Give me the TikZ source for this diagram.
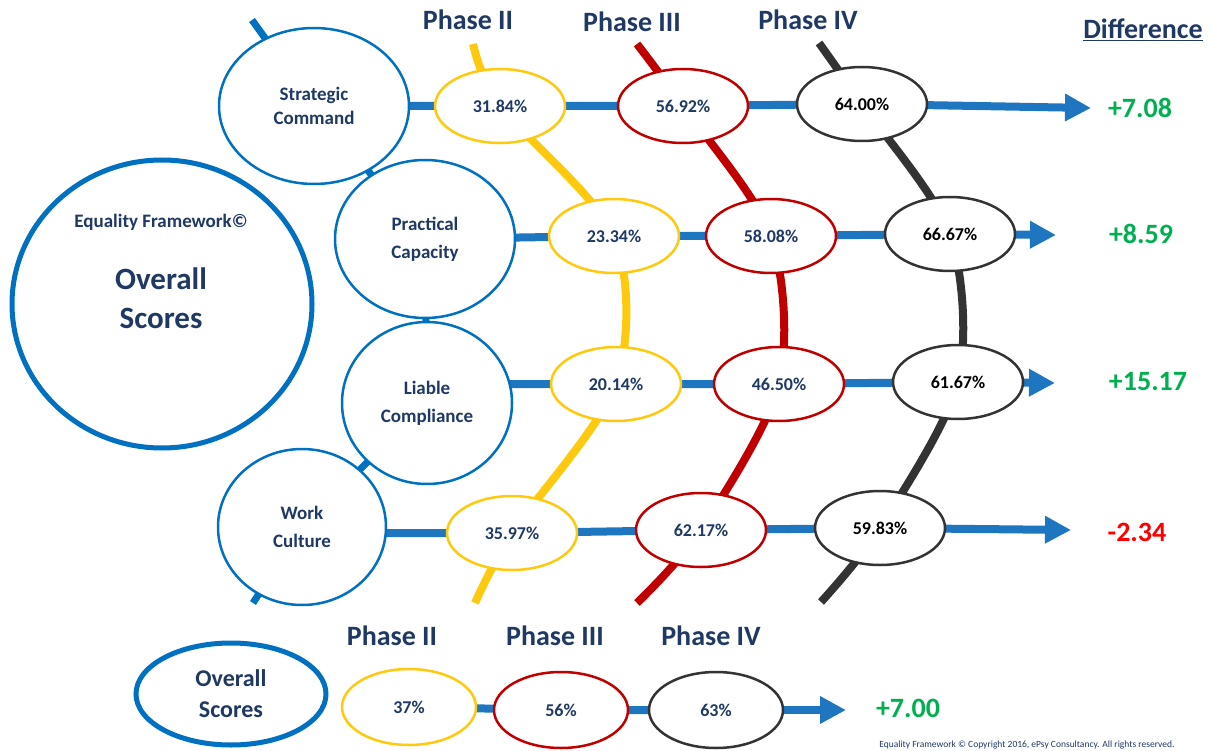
\documentclass[tikz,border=0pt]{standalone}
\usepackage{fontspec}
\setmainfont{Carlito}
\usepackage{xcolor}
\usepackage{tikz}
\usetikzlibrary{arrows.meta,shapes,calc}
\pgfdeclarelayer{bg}
\pgfsetlayers{bg,main}
\definecolor{navy}{RGB}{31,56,100}
\definecolor{lineblue}{RGB}{30,117,192}
\definecolor{ringblue}{RGB}{0,112,192}
\definecolor{phyellow}{RGB}{255,201,14}
\definecolor{phred}{RGB}{192,0,0}
\definecolor{phdark}{RGB}{51,51,51}
\definecolor{upgreen}{RGB}{0,176,80}
\definecolor{downred}{RGB}{255,0,0}

\begin{document}
\begin{tikzpicture}[x = 1pt, y = -1pt,
  area/.style = {ellipse, draw = ringblue, line width = 2.5pt, fill = white, text = navy, align = center, inner sep = 0pt, font = \fontsize{19}{28}\selectfont\bfseries},
  score/.style = {ellipse, line width = 2.5pt, fill = white, text = navy, inner sep = 0pt, minimum width = 130pt, minimum height = 74pt, font = \fontsize{18}{20}\selectfont\bfseries},
  p2/.style = {score, draw = phyellow},
  p3/.style = {score, draw = phred},
  p4/.style = {score, draw = phdark, text = black},
  phase/.style = {text = navy, font = \fontsize{28}{30}\selectfont\bfseries},
  diff/.style = {font = \fontsize{28}{30}\selectfont\bfseries},
  track/.style = {line width = 8pt},
  bar/.style = {lineblue, line width = 8pt},
  arr/.style = {bar, -{Triangle[length = 26pt, width = 26pt]}}]
\useasboundingbox (0,0) rectangle (1212,751);

\node[area, line width = 5pt, minimum width = 300pt, minimum height = 288pt] (ov) at (162,304) {};
\node[text = navy, font = \fontsize{19}{22}\selectfont\bfseries] (ovnote) at (161,222) {Equality Framework©};
\node[text = navy, align = center, font = \fontsize{31}{39}\selectfont\bfseries] (ovname) at (161,298) {Overall\\Scores};

\node[area, minimum width = 190pt, minimum height = 156pt, font = \fontsize{19}{24}\selectfont\bfseries] (sc) at (314,106) {Strategic\\Command};
\node[area, minimum width = 180pt, minimum height = 158pt] (pc) at (425,239) {Practical\\Capacity};
\node[area, minimum width = 170pt, minimum height = 162pt] (lc) at (427,403) {Liable\\Compliance};
\node[area, minimum width = 168pt, minimum height = 156pt] (wc) at (302,527) {Work\\Culture};

\node[phase] (ph2) at (468,20) {Phase II};
\node[phase] (ph3) at (632,22) {Phase III};
\node[phase] (ph4) at (808,20) {Phase IV};
\node[phase] (diffhead) at (1143,30) {\underline{Difference}};

\node[p2] (y1) at (500,106) {31.84\%};
\node[p2] (y2) at (614,236) {23.34\%};
\node[p2] (y3) at (616,384) {20.14\%};
\node[p2] (y4) at (512,533) {35.97\%};
\node[p3] (r1) at (683,106) {56.92\%};
\node[p3] (r2) at (771,236) {58.08\%};
\node[p3] (r3) at (779,384) {46.50\%};
\node[p3] (r4) at (701,530) {62.17\%};
\node[p4] (k1) at (862,104) {64.00\%};
\node[p4] (k2) at (950,234) {66.67\%};
\node[p4] (k3) at (958,382) {61.67\%};
\node[p4] (k4) at (880,528) {59.83\%};

\coordinate (btop) at (252,20);
\coordinate (bbot) at (253,603);
\coordinate (ytop) at (473,44);
\coordinate (ybot) at (475,603);
\coordinate (rtop) at (637,44);
\coordinate (rbot) at (637,603);
\coordinate (ktop) at (819,43);
\coordinate (kbot) at (821,602);
\coordinate (t1) at (1091,108);
\coordinate (t2) at (1056,235);
\coordinate (t3) at (1055,383);
\coordinate (t4) at (1071,530);

\node[diff, text = upgreen] (d1) at (1140,108) {+7.08};
\node[diff, text = upgreen] (d2) at (1141,234) {+8.59};
\node[diff, text = upgreen] (d3) at (1148,382) {+15.17};
\node[diff, text = downred] (d4) at (1137,532) {-2.34};

\node[phase] (bph2) at (392,636) {Phase II};
\node[phase] (bph3) at (555,636) {Phase III};
\node[phase] (bph4) at (711,636) {Phase IV};
\node[area, line width = 5pt, minimum width = 190pt, minimum height = 102pt, font = \fontsize{24}{31}\selectfont\bfseries] (bov) at (231,694) {Overall\\Scores};
\node[p2, minimum width = 134pt, minimum height = 76pt] (b1) at (409,707) {37\%};
\node[p3, minimum width = 134pt, minimum height = 76pt] (b2) at (561,710) {56\%};
\node[p4, minimum width = 134pt, minimum height = 76pt, text = navy] (b3) at (716,710) {63\%};
\coordinate (bt) at (846,710);
\node[diff, text = upgreen] (bd) at (908,708) {+7.00};

\node[anchor = east, text = navy, font = \fontsize{9.5}{11}\selectfont] (rights) at (1178,745) {Equality Framework © Copyright 2016, ePsy Consultancy. All rights reserved.};

\begin{pgfonlayer}{bg}
\draw[ringblue, line width = 7pt] (btop) -- (sc.center) -- (pc.center) -- (lc.center) -- (wc.center) -- (bbot);
\draw[track, phyellow] plot[smooth] coordinates {(ytop) (y1.center) (y2.center) (y3.center) (y4.center) (ybot)};
\draw[track, phred] plot[smooth] coordinates {(rtop) (r1.center) (r2.center) (r3.center) (r4.center) (rbot)};
\draw[track, phdark] plot[smooth] coordinates {(ktop) (k1.center) (k2.center) (k3.center) (k4.center) (kbot)};
\draw[bar] (sc.center) -- (y1.center) -- (r1.center) -- (k1.center);
\draw[bar] (pc.center) -- (y2.center) -- (r2.center) -- (k2.center);
\draw[bar] (lc.center |- y3.center) -- (y3.center) -- (r3.center) -- (k3.center);
\draw[bar] (wc.center |- y4.center) -- (y4.center) -- (r4.center) -- (k4.center);
\draw[arr] (k1.center) -- (t1);
\draw[arr] (k2.center) -- (t2);
\draw[arr] (k3.center) -- (t3);
\draw[arr] (k4.center) -- (t4);
\draw[bar] (b1.center) -- (b2.center) -- (b3.center);
\draw[arr] (b3.center) -- (bt);
\end{pgfonlayer}
\end{tikzpicture}
\end{document}
